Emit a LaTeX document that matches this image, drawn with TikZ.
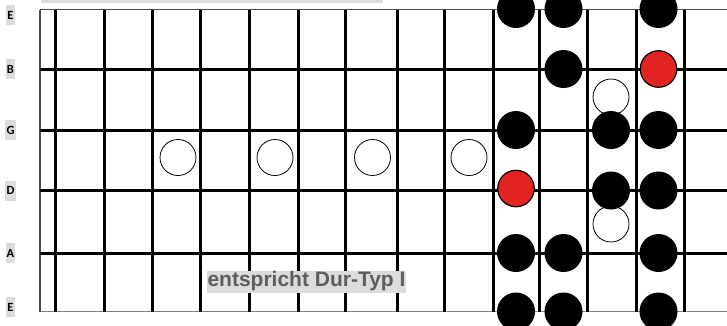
\documentclass[tikz,border=0pt]{standalone}
\usepackage{fontspec}
\setmainfont{Liberation Sans}
\newfontfamily\labelfont{Carlito}
\usepackage{xcolor}
\usetikzlibrary{positioning}

\definecolor{dotred}{HTML}{E32322}
\definecolor{hlgray}{HTML}{DCDCDC}
\definecolor{textgray}{HTML}{5E5E5E}

\begin{document}
\begin{tikzpicture}[
                x=1pt, y=-1pt,
                fret_line/.style={line width=3pt, black},
                string_line/.style={line width=3pt, black},
                edge_line/.style={line width=1.4pt, black!70},
                full_dot/.style={circle, fill=black, inner sep=0pt, minimum size=38pt},
                root_dot/.style={circle, fill=dotred, draw=black, line width=1.2pt, inner sep=0pt, minimum size=36.5pt},
                open_dot/.style={circle, fill=white, draw=black, line width=0.8pt, inner sep=0pt, minimum size=36pt},
                string_label/.style={fill=hlgray, inner xsep=1.2pt, inner ysep=0pt, minimum height=20pt, font=\labelfont\bfseries\fontsize{12.5}{12.5}\selectfont},
                hint_text/.style={fill=hlgray, text=textgray, inner xsep=1pt, inner ysep=0pt, minimum height=22pt, font=\bfseries\fontsize{21}{22}\selectfont}
            ]
                \useasboundingbox (0,0) rectangle (727,325);
                \clip (0,0) rectangle (727,325);

                % Fretboard
                \fill[hlgray] (41,0) rectangle (383,3);
                \draw[edge_line] (40,9.5) -- (727,9.5);
                \draw[edge_line, black!50] (40,311.5) -- (727,311.5);
                \draw[edge_line] (40,9.5) -- (40,311.5);
                \foreach \y in {69,130,190.5,253}
                    \draw[string_line] (40,\y) -- (727,\y);
                \foreach \x in {55,104,152,200,249,298,345,397,444,493,539,587,636.5,684}
                    \draw[fret_line] (\x,9.5) -- (\x,311.5);

                % String names
                \node[string_label] (lblE1) at (10.5,15) {E};
                \node[string_label] (lblB) at (10.5,69) {B};
                \node[string_label] (lblG) at (10.5,130) {G};
                \node[string_label] (lblD) at (10.5,190.5) {D};
                \node[string_label] (lblA) at (10.5,253) {A};
                \node[string_label] (lblE6) at (10.5,307) {E};

                \node[hint_text] (durtyp) at (306.5,281.5) {entspricht Dur-Typ I};

                % Open markers
                \foreach \x [count=\i] in {178,275,372.5,469}
                    \node[open_dot] (open\i) at (\x,157.5) {};
                \node[open_dot] (openBG) at (611,97) {};
                \node[open_dot] (openDA) at (611,224) {};

                % Scale tones
                \foreach \x [count=\i] in {516,563.5,658.5} {
                    \node[full_dot] (hiE\i) at (\x,9) {};
                    \node[full_dot] (toneA\i) at (\x,253) {};
                    \node[full_dot] (loE\i) at (\x,311.5) {};
                }
                \node[full_dot] (toneB) at (563.5,69) {};
                \foreach \x [count=\i] in {516,611,658.5}
                    \node[full_dot] (toneG\i) at (\x,130) {};
                \foreach \x [count=\i] in {611,658.5}
                    \node[full_dot] (toneD\i) at (\x,190.5) {};

                % Root tones
                \node[root_dot] (rootB) at (658.5,69) {};
                \node[root_dot] (rootD) at (516,188.5) {};

            \end{tikzpicture}
\end{document}
